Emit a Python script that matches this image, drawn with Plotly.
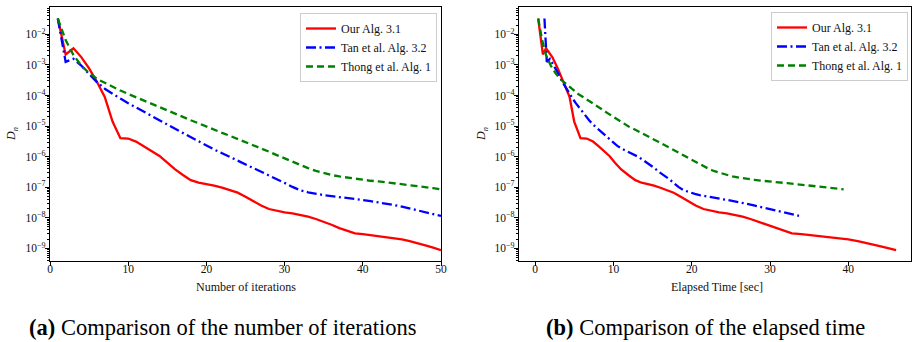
import plotly.graph_objects as go

# ---------------- data ----------------
iterations = list(range(1, 51))

ours_D = [3.3e-2, 2.2e-3, 3.5e-3, 1.8e-3, 7.7e-4, 2.8e-4, 9.0e-5, 1.4e-5, 4.0e-6, 3.9e-6,
          3.1e-6, 2.2e-6, 1.55e-6, 1.05e-6, 6.3e-7, 3.8e-7, 2.5e-7, 1.7e-7, 1.4e-7, 1.26e-7,
          1.12e-7, 9.6e-8, 8.1e-8, 6.6e-8, 4.9e-8, 3.5e-8, 2.5e-8, 1.93e-8, 1.66e-8, 1.5e-8,
          1.4e-8, 1.26e-8, 1.08e-8, 9.1e-9, 7.4e-9, 5.9e-9, 4.6e-9, 3.7e-9, 3.1e-9, 2.9e-9,
          2.7e-9, 2.5e-9, 2.3e-9, 2.2e-9, 1.97e-9, 1.73e-9, 1.5e-9, 1.25e-9, 1.05e-9, 8.7e-10]

tan_D = [3.3e-2, 1.26e-3, 1.58e-3, 9.5e-4, 5.0e-4, 2.75e-4, 1.66e-4, 1.12e-4, 7.9e-5, 5.6e-5,
         4.1e-5, 2.95e-5, 2.14e-5, 1.55e-5, 1.12e-5, 8.1e-6, 5.9e-6, 4.3e-6, 3.1e-6, 2.24e-6,
         1.7e-6, 1.29e-6, 9.8e-7, 7.4e-7, 5.6e-7, 4.3e-7, 3.2e-7, 2.45e-7, 1.86e-7, 1.38e-7,
         1.02e-7, 7.9e-8, 6.8e-8, 6.0e-8, 5.5e-8, 5.1e-8, 4.8e-8, 4.4e-8, 4.1e-8, 3.8e-8,
         3.5e-8, 3.2e-8, 2.9e-8, 2.6e-8, 2.3e-8, 2.0e-8, 1.78e-8, 1.55e-8, 1.35e-8, 1.15e-8]

thong_D = [3.3e-2, 6.5e-3, 2.1e-3, 9.5e-4, 5.4e-4, 3.5e-4, 2.6e-4, 1.9e-4, 1.45e-4, 1.12e-4,
           8.7e-5, 6.8e-5, 5.4e-5, 4.2e-5, 3.3e-5, 2.6e-5, 2.0e-5, 1.55e-5, 1.23e-5, 9.5e-6,
           7.6e-6, 6.0e-6, 4.8e-6, 3.8e-6, 3.0e-6, 2.4e-6, 1.86e-6, 1.45e-6, 1.12e-6, 8.7e-7,
           6.8e-7, 5.2e-7, 4.2e-7, 3.4e-7, 2.9e-7, 2.5e-7, 2.24e-7, 2.04e-7, 1.86e-7, 1.74e-7,
           1.62e-7, 1.55e-7, 1.45e-7, 1.35e-7, 1.26e-7, 1.17e-7, 1.1e-7, 1.02e-7, 9.3e-8, 8.5e-8]

ours_time = [0.4, 1.0, 1.4, 2.2, 2.9, 3.6, 4.4, 5.0, 5.8, 6.6,
             7.4, 8.1, 8.8, 9.5, 10.2, 11.0, 11.9, 12.8, 13.6, 14.4,
             15.2, 16.0, 16.8, 17.7, 18.6, 19.5, 20.5, 21.5, 22.5, 23.5,
             24.5, 25.5, 26.5, 27.5, 28.5, 29.5, 30.6, 31.7, 32.8, 34.0,
             35.2, 36.4, 37.6, 38.8, 40.0, 41.2, 42.4, 43.6, 44.8, 46.1]

tan_time = [1.2, 1.5, 1.9, 2.4, 3.0, 3.5, 4.0, 4.4, 4.8, 5.2,
            5.6, 6.0, 6.5, 6.9, 7.4, 8.0, 8.6, 9.2, 9.9, 10.5,
            11.3, 12.3, 13.2, 13.9, 14.6, 15.2, 15.8, 16.5, 17.1, 17.7,
            18.3, 19.0, 19.7, 20.4, 21.0, 21.6, 22.3, 23.0, 23.8, 24.6,
            25.4, 26.2, 27.0, 27.8, 28.6, 29.6, 30.6, 31.6, 32.6, 33.7]

thong_time = [0.4, 0.9, 1.4, 2.0, 2.6, 3.2, 3.8, 4.4, 4.9, 5.5,
              6.2, 6.8, 7.4, 8.0, 8.6, 9.3, 10.0, 10.7, 11.3, 12.0,
              12.8, 13.5, 14.3, 15.0, 15.8, 16.5, 17.3, 18.0, 18.8, 19.6,
              20.4, 21.2, 22.0, 22.8, 23.6, 24.4, 25.2, 26.1, 27.0, 28.0,
              29.0, 30.0, 31.1, 32.2, 33.3, 34.5, 35.7, 36.9, 38.1, 39.4]

series_names = ["Our Alg. 3.1", "Tan et al. Alg. 3.2", "Thong et al. Alg. 1"]
y_tick_exponents = [-9, -8, -7, -6, -5, -4, -3, -2]
x_ticks_left = [0, 10, 20, 30, 40, 50]
x_ticks_right = [0, 10, 20, 30, 40]
x_title_left = "Number of iterations"
x_title_right = "Elapsed Time [sec]"
y_title = "<i>D<sub>n</sub></i>"
caption_left = "<b>(a)</b> Comparison of the number of iterations"
caption_right = "<b>(b)</b> Comparison of the elapsed time"

# ---------------- styling ----------------
W, H = 912, 342
FONT = "Liberation Serif, Times New Roman, serif"
TXT = "#111111"
styles = [
    dict(color="#ff0000", width=2.3, dash="solid"),
    dict(color="#0000ff", width=2.3, dash="10px,3.5px,2px,3.5px"),
    dict(color="#008000", width=2.3, dash="7px,4px"),
]

def px_x(p):
    return p / W

def px_y(p):
    return 1 - p / H

fig = go.Figure()

left_y = [ours_D, tan_D, thong_D]
right_x = [ours_time, tan_time, thong_time]
for name, st, yv in zip(series_names, styles, left_y):
    fig.add_trace(go.Scatter(x=iterations, y=yv, mode="lines", name=name, line=st,
                             xaxis="x", yaxis="y", legend="legend"))
for name, st, xv, yv in zip(series_names, styles, right_x, left_y):
    fig.add_trace(go.Scatter(x=xv, y=yv, mode="lines", name=name, line=st,
                             xaxis="x2", yaxis="y2", legend="legend2"))

tickvals = [10.0 ** e for e in y_tick_exponents]
ticktext = ["10<sup>\u2212%d</sup>" % (-e) for e in y_tick_exponents]
minor_vals = [m * 10.0 ** k for k in range(-10, -1) for m in range(2, 10)]

axis_common = dict(showgrid=False, zeroline=False, showline=True, linecolor="black",
                   linewidth=1.2, mirror=True, ticks="outside", ticklen=4, tickwidth=1,
                   tickcolor="black", automargin=False,
                   tickfont=dict(family=FONT, size=11.5, color=TXT))

yaxis_common = dict(axis_common, type="log", range=[-9.415, -1.106],
                    tickmode="array", tickvals=tickvals, ticktext=ticktext,
                    ticklabelstandoff=-3,
                    minor=dict(tickmode="array", tickvals=minor_vals, ticks="outside",
                               ticklen=2, tickwidth=0.8, tickcolor="black", showgrid=False))

ydom = [px_y(261), px_y(7)]
legend_common = dict(xanchor="right", yanchor="top",
                     bgcolor="rgba(255,255,255,0.85)", bordercolor="#cccccc", borderwidth=1,
                     font=dict(family=FONT, size=12, color=TXT), itemwidth=30,
                     tracegroupgap=0)

fig.update_layout(
    template="none",
    width=W, height=H,
    margin=dict(l=0, r=0, t=0, b=0, autoexpand=False),
    paper_bgcolor="white", plot_bgcolor="white",
    font=dict(family=FONT, size=12, color=TXT),
    xaxis=dict(axis_common, domain=[px_x(50), px_x(441)], range=[0, 50],
               tickmode="array", tickvals=x_ticks_left, anchor="y", ticklabelstandoff=-7),
    yaxis=dict(yaxis_common, domain=ydom, anchor="x"),
    xaxis2=dict(axis_common, domain=[px_x(519), px_x(911)], range=[-2.05, 48.0],
                tickmode="array", tickvals=x_ticks_right, anchor="y2", ticklabelstandoff=-7),
    yaxis2=dict(yaxis_common, domain=ydom, anchor="x2"),
    legend=dict(legend_common, x=px_x(437), y=px_y(13)),
    legend2=dict(legend_common, x=px_x(908), y=px_y(12)),
    showlegend=True,
)

# axis titles
for xc, text in [(245.5, x_title_left), (717, x_title_right)]:
    fig.add_annotation(x=px_x(xc), y=px_y(287), xref="paper", yref="paper", text=text,
                       showarrow=False, xanchor="center", yanchor="middle",
                       font=dict(family=FONT, size=12, color=TXT))
for xc in [12, 482]:
    fig.add_annotation(x=px_x(xc), y=px_y(134), xref="paper", yref="paper", text=y_title,
                       showarrow=False, xanchor="center", yanchor="middle", textangle=-90,
                       font=dict(family=FONT, size=12, color=TXT))

# captions
fig.add_annotation(x=px_x(222), y=px_y(327), xref="paper", yref="paper", text=caption_left,
                   showarrow=False, xanchor="center", yanchor="middle",
                   font=dict(family=FONT, size=22.5, color="black"))
fig.add_annotation(x=px_x(705), y=px_y(327), xref="paper", yref="paper", text=caption_right,
                   showarrow=False, xanchor="center", yanchor="middle",
                   font=dict(family=FONT, size=22.5, color="black"))

fig.write_html("out.html", config={"displayModeBar": False},
               post_script="document.body.style.margin='0px';document.body.style.overflow='hidden';")
